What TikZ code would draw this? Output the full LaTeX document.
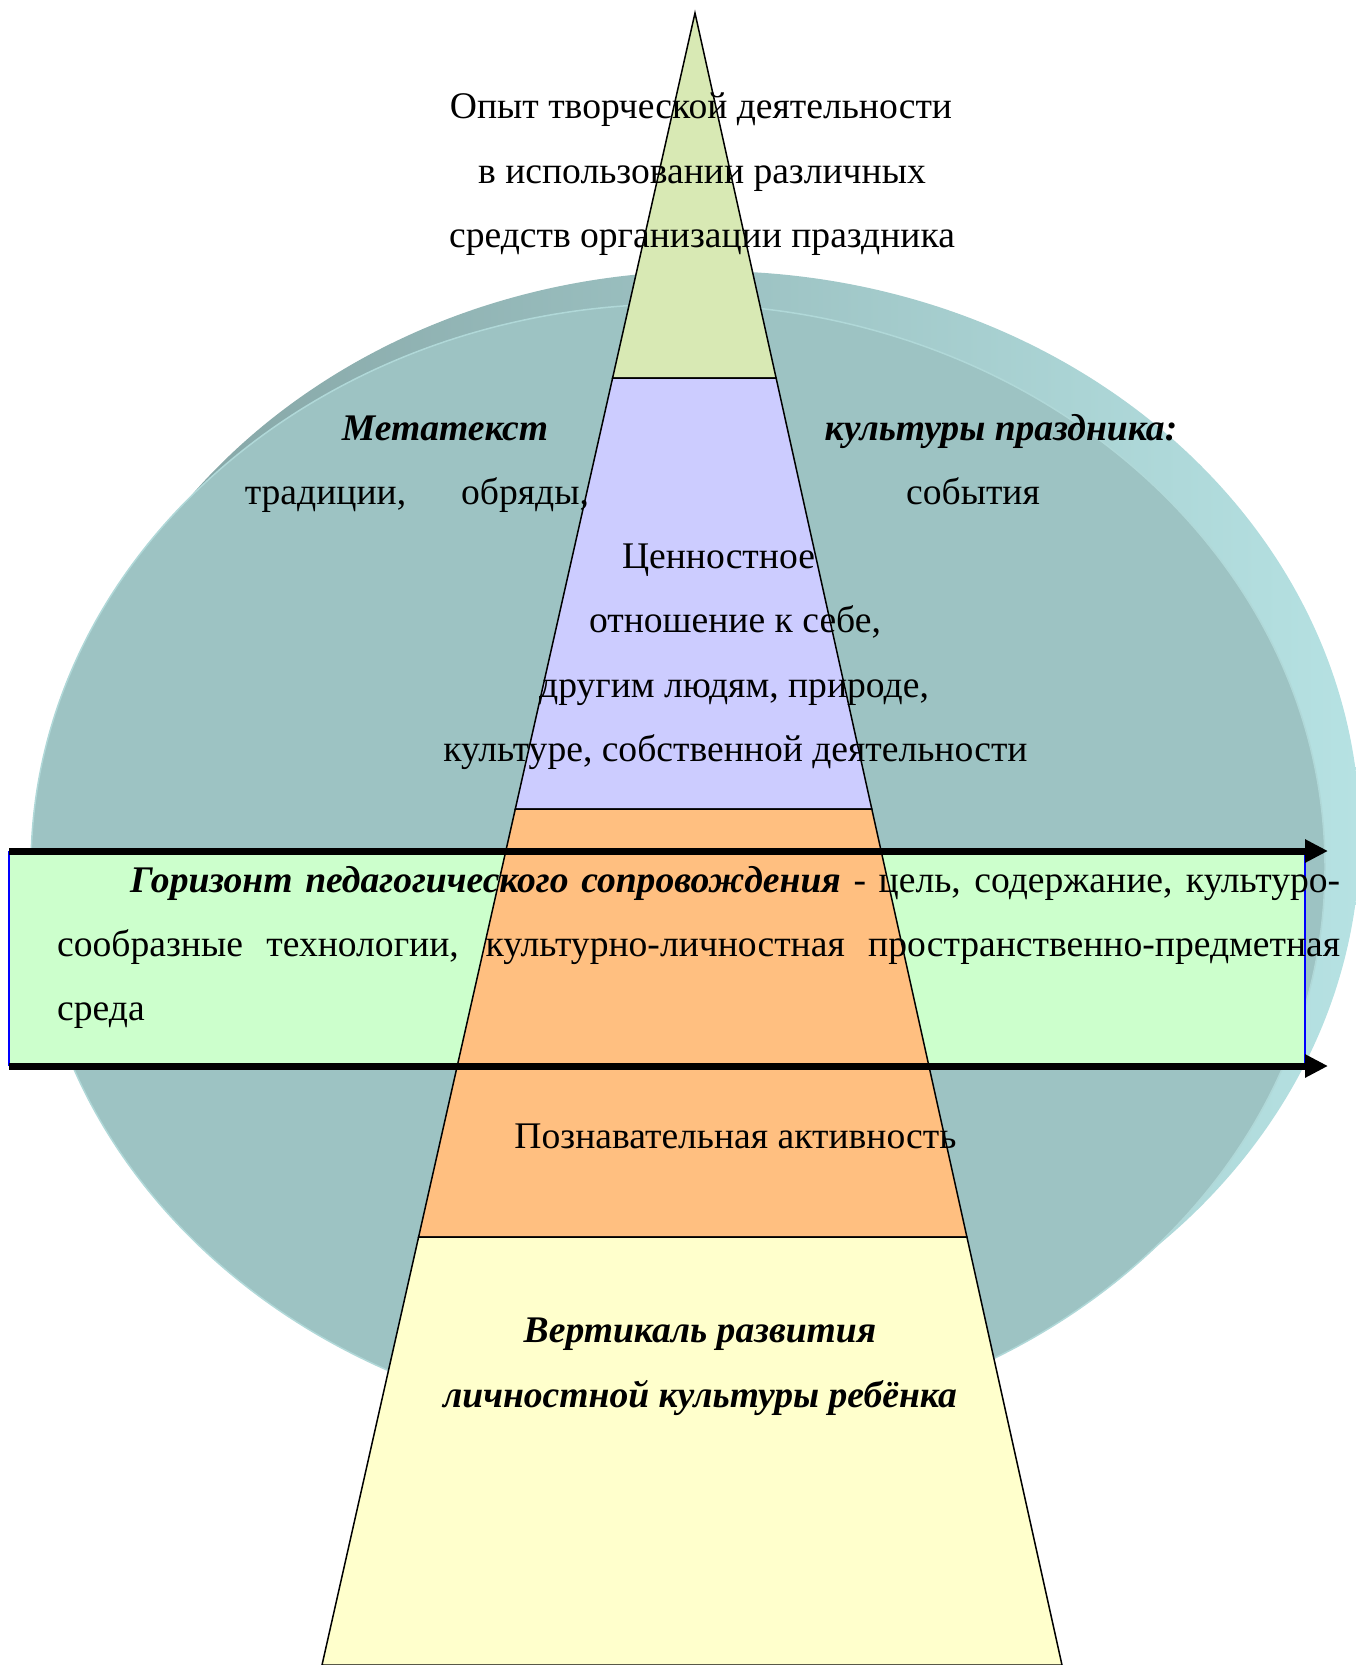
\documentclass[tikz,border=0pt]{standalone}
\usepackage{fontspec}
\setmainfont{Liberation Serif}
\usetikzlibrary{arrows.meta}
\definecolor{rimdark}{HTML}{82A1A1}
\definecolor{rimlight}{HTML}{B6E2E3}
\definecolor{facecol}{HTML}{9DC3C3}
\definecolor{faceedge}{HTML}{B0D8D8}
\definecolor{bandcol}{HTML}{CCFFCC}
\definecolor{tipgreen}{HTML}{D8E9B4}
\definecolor{lavcol}{HTML}{CCCCFF}
\definecolor{orngcol}{HTML}{FFBF80}
\definecolor{yelcol}{HTML}{FFFFCC}
\begin{document}
\begin{tikzpicture}[x=1pt,y=-1pt,
  txt/.style={font=\fontsize{37.6}{44}\selectfont, inner sep=0pt, anchor=base},
  bi/.style={txt, font=\fontsize{37.6}{44}\selectfont\bfseries\itshape},
  layer/.style={draw=black, line width=1.5pt, line join=miter},
  harrow/.style={line width=7pt, -{Triangle[length=23pt,width=22pt]}},
  bandedge/.style={draw=blue, line width=1.2pt}
]
\useasboundingbox (0,0) rectangle (1356,1665);
% disc
\shade[left color=rimdark, right color=rimlight] (710,836) ellipse [x radius=650, y radius=565];
\fill[facecol] (678,867) ellipse [x radius=647, y radius=563];
\draw[faceedge, line width=1.5pt] (678,867) ellipse [x radius=647, y radius=563];
% horizontal band
\fill[bandcol] (9,851) rectangle (1305,1066);
\coordinate (bl1) at (9,851); \coordinate (bl2) at (9,1066);
\coordinate (br1) at (1305,851); \coordinate (br2) at (1305,1066);
\draw[bandedge] (bl1) -- (bl2);
\draw[bandedge] (br1) -- (br2);
% pyramid
\filldraw[fill=tipgreen, layer] (695,13) -- (776.1,378) -- (612.6,378) -- cycle;
\filldraw[fill=lavcol, layer] (612.6,378) -- (776.1,378) -- (871.8,809) -- (515.3,809) -- cycle;
\filldraw[fill=orngcol, layer] (515.3,809) -- (871.8,809) -- (966.9,1237) -- (418.6,1237) -- cycle;
\filldraw[fill=yelcol, layer] (418.6,1237) -- (966.9,1237) -- (1062,1665) -- (322,1665) -- cycle;
% arrows
\coordinate (a1s) at (9,851); \coordinate (a1e) at (1328,851);
\coordinate (a2s) at (9,1066); \coordinate (a2e) at (1328,1066);
\draw[harrow] (a1s) -- (a1e);
\draw[harrow] (a2s) -- (a2e);
% texts
\node[txt] (op1) at (701,118) {Опыт творческой деятельности};
\node[txt] (op2) at (702,183) {в использовании различных};
\node[txt] (op3) at (702,247) {средств организации праздника};
\node[bi] (meta) at (445,440) {Метатекст};
\node[bi] (kult) at (1001,440) {культуры праздника:};
\node[txt] (trad) at (325.5,504) {традиции,};
\node[txt] (obr) at (525,504) {обряды,};
\node[txt] (sob) at (973,504) {события};
\node[txt] (cen1) at (718.5,568) {Ценностное};
\node[txt] (cen2) at (735,632) {отношение к себе,};
\node[txt] (cen3) at (734,697) {другим людям, природе,};
\node[txt] (cen4) at (735.5,761) {культуре, собственной деятельности};
\node[txt, anchor=base west] (h1) at (130,892) {\makebox[1210pt][s]{\textbf{\textit{Горизонт педагогического сопровождения}} - цель, содержание, культуро-}};
\node[txt, anchor=base west] (h2) at (57,956) {\makebox[1283pt][s]{сообразные технологии, культурно-личностная пространственно-предметная}};
\node[txt, anchor=base west] (h3) at (57,1020) {среда};
\node[txt] (poz) at (735.5,1148) {Познавательная активность};
\node[bi] (vert1) at (700,1342) {Вертикаль развития};
\node[bi] (vert2) at (700,1407) {личностной культуры ребёнка};
\end{tikzpicture}
\end{document}
